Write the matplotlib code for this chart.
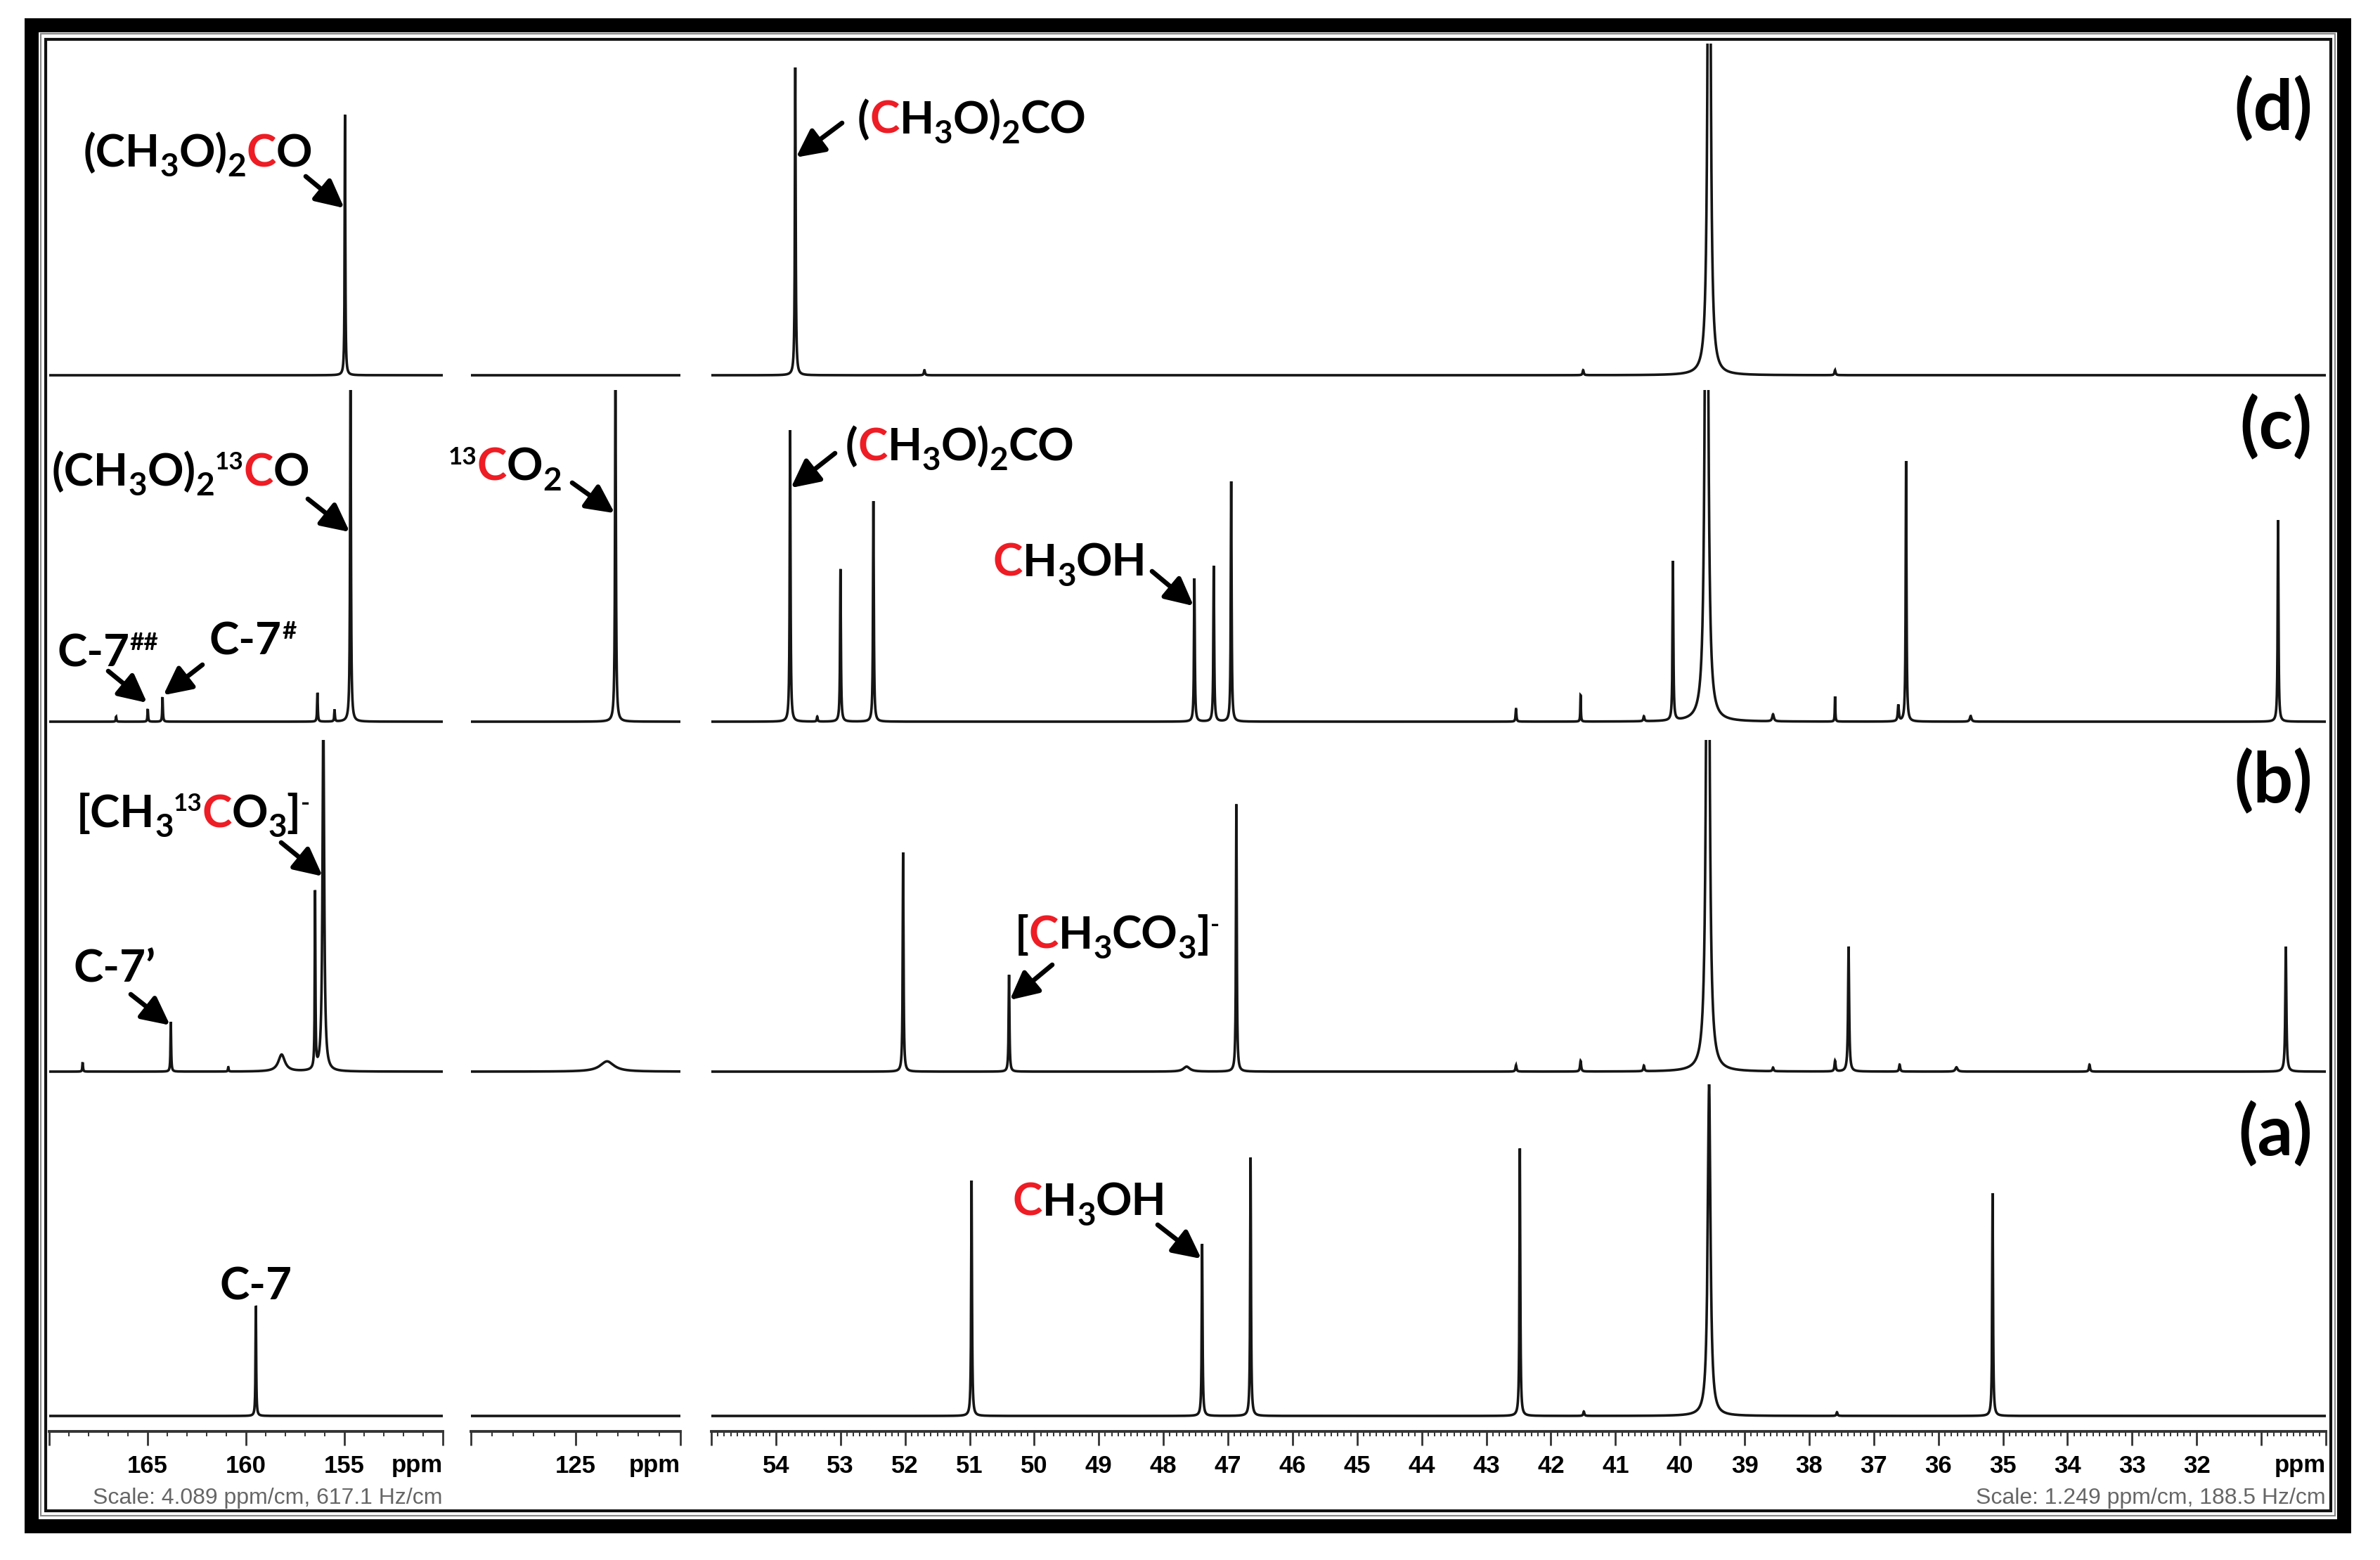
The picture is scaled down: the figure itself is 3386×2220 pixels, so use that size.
import numpy as np
import matplotlib
matplotlib.use("Agg")
import matplotlib.pyplot as plt
from matplotlib.patches import Rectangle

# ---- data: peak position (ppm), intensity (100 = full panel height), FWHM (ppm)
seg_ranges = [(170, 150), (130, 120), (55, 30)]

ppm_d = [154.97, 53.70, 51.7, 41.5, 39.55, 37.6]
int_d = [78.6, 92.8, 1.5, 1.5, 260, 1.5]
fwhm_d = [0.04, 0.015, 0.02, 0.02, 0.04, 0.02]

ppm_c = [166.6, 164.99, 164.24, 156.37, 155.5, 154.69, 123.1,
         53.78, 53.36, 53.0, 52.49, 47.52, 47.22, 46.95, 42.54, 41.54, 40.56,
         40.11, 39.59, 38.56, 37.6, 36.62, 36.5, 35.5, 30.74]
int_c = [1.5, 3.8, 7.4, 8.7, 3.6, 110, 110,
         87.9, 1.5, 46.0, 66.5, 43.2, 47.0, 72.5, 3.8, 8.0, 1.5,
         48.1, 260, 2.1, 7.6, 4.9, 78.6, 1.7, 60.8]
fwhm_c = [0.04, 0.04, 0.04, 0.04, 0.04, 0.05, 0.05,
          0.015, 0.015, 0.015, 0.015, 0.015, 0.015, 0.015, 0.015, 0.01, 0.02,
          0.015, 0.045, 0.03, 0.01, 0.02, 0.015, 0.03, 0.015]

ppm_b = [168.3, 163.82, 160.9, 158.19, 156.49, 156.07, 123.5,
         52.03, 50.39, 47.64, 46.87, 42.54, 41.54, 40.56, 39.57, 38.56, 37.6,
         37.39, 36.6, 35.72, 33.66, 30.62]
int_b = [2.8, 15.0, 1.3, 5.1, 53.2, 110, 3.1,
         66.1, 29.2, 1.5, 80.7, 1.9, 3.2, 1.7, 260, 1.1, 3.2,
         37.7, 2.1, 1.3, 2.1, 37.7]
fwhm_b = [0.04, 0.04, 0.04, 0.4, 0.04, 0.1, 0.8,
          0.015, 0.015, 0.12, 0.015, 0.02, 0.02, 0.02, 0.045, 0.02, 0.02,
          0.02, 0.02, 0.04, 0.02, 0.02]

ppm_a = [159.5, 50.97, 47.40, 46.65, 42.48, 41.49, 39.55, 37.57, 35.16]
int_a = [33.3, 71.0, 51.9, 78.0, 80.9, 1.3, 100, 1.1, 67.2]
fwhm_a = [0.04, 0.015, 0.015, 0.015, 0.015, 0.02, 0.05, 0.02, 0.015]

spectra = [(ppm_d, int_d, fwhm_d), (ppm_c, int_c, fwhm_c),
           (ppm_b, int_b, fwhm_b), (ppm_a, int_a, fwhm_a)]
panel_names = ["(d)", "(c)", "(b)", "(a)"]

seg_major = [[170, 165, 160, 155, 150], [130, 125, 120], list(range(55, 29, -1))]
seg_labels = [["", "165", "160", "155", ""], ["", "125", ""],
              [""] + [str(v) for v in range(54, 31, -1)] + ["", ""]]
seg_minor_step = [1.0, 1.0, 0.1]
scale_texts = ["Scale: 4.089 ppm/cm, 617.1 Hz/cm", "Scale: 1.249 ppm/cm, 188.5 Hz/cm"]

# ---- layout (pixels of the 3387x2220 canvas, y measured from top)
W, H, DPI = 3387, 2220, 100
col_px = [(70, 630), (670, 968), (1012, 3309)]
row_base = [534, 1027, 1525, 2015]
row_h = 472
below = 14
unit = row_h / 100.0
RED = "#ee1c24"
LINE = "#151515"
npts = [8000, 4000, 30000]

fig = plt.figure(figsize=(W / DPI, H / DPI), dpi=DPI)
fig.patch.set_facecolor("white")
renderer = fig.canvas.get_renderer()


def fx(x):
    return x / W


def fy(y):
    return 1 - y / H


axes = {}
for ri, (P, I, Wd) in enumerate(spectra):
    base = row_base[ri]
    for ci, (hi, lo) in enumerate(seg_ranges):
        x0, x1 = col_px[ci]
        ax = fig.add_axes([fx(x0), fy(base + below), (x1 - x0) / W, (row_h + below) / H])
        xs = np.linspace(lo, hi, npts[ci])
        ys = np.zeros_like(xs)
        for p, h, w in zip(P, I, Wd):
            if lo <= p <= hi:
                ys += h / (1 + ((xs - p) / (w / 2)) ** 2)
        ax.plot(xs, ys, color=LINE, lw=2.6, solid_joinstyle="miter")
        ax.set_xlim(hi, lo)
        ax.set_ylim(-below / unit, 100)
        ax.axis("off")
        axes[(ri, ci)] = ax

# ---- ppm scales at the bottom
tick_family = ["Liberation Sans", "DejaVu Sans"]
tick_font = dict(family=tick_family, weight="bold", size=25)
for ci, (hi, lo) in enumerate(seg_ranges):
    x0, x1 = col_px[ci]
    tax = fig.add_axes([fx(x0), fy(2037), (x1 - x0) / W, 8 / H])
    tax.set_xlim(hi, lo)
    tax.set_ylim(0, 1)
    for s in ["top", "left", "right"]:
        tax.spines[s].set_visible(False)
    tax.spines["bottom"].set_linewidth(2.8)
    tax.spines["bottom"].set_color("#333333")
    tax.set_yticks([])
    tax.set_xticks(seg_major[ci])
    tax.set_xticklabels(seg_labels[ci], fontdict=tick_font)
    tax.set_xticks(np.arange(lo, hi + 1e-6, seg_minor_step[ci]), minor=True)
    tax.tick_params(axis="x", which="major", direction="out", length=14.5, width=2.0,
                    color="#333333", pad=9)
    tax.tick_params(axis="x", which="minor", direction="out", length=5, width=1.4,
                    color="#333333")
    fig.text(fx(x1), fy(2085), "ppm", ha="right", va="center",
             fontfamily=tick_family, fontweight="bold", fontsize=25)

for xr, s in zip([630, 3309], scale_texts):
    fig.text(fx(xr), fy(2132), s, ha="right", va="center", color="#666666",
             fontfamily=tick_family, fontsize=23)


# ---- chemical labels
def chem(x, y, parts, size=46):
    em = size * DPI / 72
    for s, kind in parts:
        fs, dy, col = size, 0.0, "black"
        if kind == "sub":
            fs, dy = size * 0.72, -0.22 * em
        elif kind == "sup":
            fs, dy = size * 0.55, 0.36 * em
        elif kind == "red":
            col = RED
        t = fig.text(fx(x), fy(y - dy), s, fontsize=fs, color=col, fontfamily="Lato",
                     fontweight="bold", ha="left", va="baseline")
        x += t.get_window_extent(renderer).width


dmc_c = [("(CH", "n"), ("3", "sub"), ("O)", "n"), ("2", "sub"), ("C", "red"), ("O", "n")]
dmc_me = [("(", "n"), ("C", "red"), ("H", "n"), ("3", "sub"), ("O)", "n"), ("2", "sub"), ("CO", "n")]
dmc13 = [("(CH", "n"), ("3", "sub"), ("O)", "n"), ("2", "sub"), ("13", "sup"), ("C", "red"), ("O", "n")]
co2 = [("13", "sup"), ("C", "red"), ("O", "n"), ("2", "sub")]
meoh = [("C", "red"), ("H", "n"), ("3", "sub"), ("OH", "n")]
mc13 = [("[CH", "n"), ("3", "sub"), ("13", "sup"), ("C", "red"), ("O", "n"), ("3", "sub"),
        ("]", "n"), ("-", "sup")]
mc = [("[", "n"), ("C", "red"), ("H", "n"), ("3", "sub"), ("CO", "n"), ("3", "sub"),
      ("]", "n"), ("-", "sup")]

chem(119, 237, dmc_c)
chem(1220, 190, dmc_me)
chem(74, 691, dmc13)
chem(638, 684, co2)
chem(81, 948, [("C-7", "n"), ("##", "sup")])
chem(298, 932, [("C-7", "n"), ("#", "sup")])
chem(1203, 655, dmc_me)
chem(1413, 820, meoh)
chem(109, 1177, mc13)
chem(105, 1398, [("C-7\u2019", "n")])
chem(1444, 1350, mc)
chem(1441, 1730, meoh)
fig.text(fx(364), fy(1850), "C-7", ha="center", va="baseline", fontsize=46,
         fontfamily="Lato", fontweight="bold")

# panel letters
for name, yc in zip(panel_names, [155, 608, 1112, 1614]):
    fig.text(fx(3290), fy(yc), name, ha="right", va="center", fontsize=72,
             fontfamily="Lato", fontweight="bold")

# ---- arrows: (row, col, peak ppm, tip height, tail x px, tail y px)
arrows = [(0, 0, 154.97, 50.2, 435, 251), (0, 2, 53.70, 65.5, 1198, 175),
          (1, 0, 154.69, 57.0, 438, 710), (1, 1, 123.1, 62.7, 814, 687),
          (1, 0, 164.99, 5.5, 154, 955), (1, 0, 164.24, 7.8, 288, 946),
          (1, 2, 53.78, 70.3, 1188, 645), (1, 2, 47.52, 34.7, 1639, 813),
          (2, 0, 156.07, 58.7, 400, 1199), (2, 0, 163.82, 13.8, 186, 1415),
          (2, 2, 50.39, 21.4, 1497, 1373), (3, 2, 47.40, 47.2, 1647, 1743)]
for ri, ci, p, h, tx, ty in arrows:
    axes[(ri, ci)].annotate("", xy=(p, h), xycoords="data", xytext=(tx, H - ty),
                            textcoords="figure pixels", annotation_clip=False,
                            arrowprops=dict(arrowstyle="-|>,head_length=1.1,head_width=0.55",
                                            mutation_scale=22, lw=4.8, color="black",
                                            shrinkA=0, shrinkB=1, clip_on=False))

# ---- frame
fig.add_artist(Rectangle((fx(45), fy(2172)), 3290.5 / W, 2136.5 / H, transform=fig.transFigure,
                         fill=False, lw=14.4, edgecolor="black", joinstyle="miter"))
fig.add_artist(Rectangle((fx(58), fy(2157)), 3264 / W, 2109 / H, transform=fig.transFigure,
                         fill=False, lw=1.5, edgecolor="#888888"))
fig.add_artist(Rectangle((fx(65), fy(2150)), 3251 / W, 2094 / H, transform=fig.transFigure,
                         fill=False, lw=3.0, edgecolor="#111111"))

fig.savefig("out.png", dpi=DPI, facecolor="white")
